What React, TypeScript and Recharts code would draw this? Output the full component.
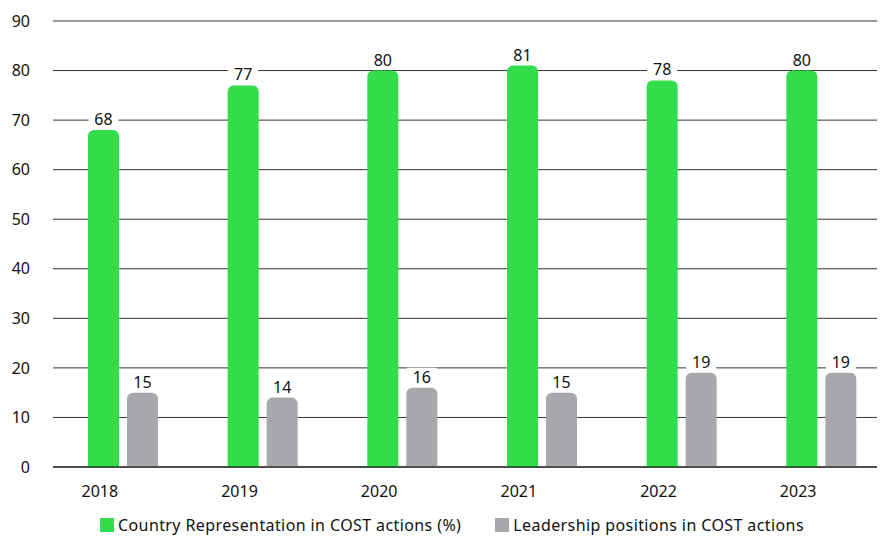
// @ts-nocheck
import { BarChart, Bar, XAxis, YAxis, CartesianGrid, LabelList, Legend } from 'recharts'

const YEARS = ['2018', '2019', '2020', '2021', '2022', '2023']
const COUNTRY = [68, 77, 80, 81, 78, 80]
const LEADERSHIP = [15, 14, 16, 15, 19, 19]
const Y_TICKS = [0, 10, 20, 30, 40, 50, 60, 70, 80, 90]

const GREEN = '#32dc4a'
const GREY = '#a7a8ab'
const FONT = '"Noto Sans", "Open Sans", sans-serif'

const data = YEARS.map((year, i) => ({ year, country: COUNTRY[i], leadership: LEADERSHIP[i] }))

const ValueLabel = ({ x, y, width, value }) => {
  const cx = x + width / 2
  const cy = y - 11
  return (
    <g>
      <rect x={cx - 15} y={cy - 9} width={30} height={18} fill="#fff" />
      <text x={cx} y={cy} textAnchor="middle" dominantBaseline="central" fontSize={16} fill="#111" fontFamily={FONT}>
        {value}
      </text>
    </g>
  )
}

const LegendContent = ({ payload }) => (
  <div style={{ display: 'flex', gap: 34, paddingLeft: 92, paddingTop: 7, fontFamily: FONT, fontSize: 16,
    letterSpacing: 0.4, color: '#111', lineHeight: '22px' }}>
    {payload.map(p => (
      <div key={p.value} style={{ display: 'flex', alignItems: 'center' }}>
        <span style={{ display: 'inline-block', width: 14, height: 14, background: p.color, marginRight: 4 }} />
        <span>{p.value}</span>
      </div>
    ))}
  </div>
)

export default function App() {
  return (
    <div style={{ width: 877, height: 528, overflow: 'hidden' }}>
      <BarChart width={883} height={528} data={data} margin={{ top: 13, right: 0, bottom: 0, left: 0 }}
        barSize={31} barGap={8}>
        <CartesianGrid vertical={false} stroke="#333" />
        <XAxis dataKey="year" axisLine={{ stroke: '#000' }} tickLine={false} tickSize={0} tickMargin={19} height={40}
          tick={{ fill: '#111', fontSize: 16, fontFamily: FONT, dx: -23 }} interval={0} />
        <YAxis domain={[0, 90]} ticks={Y_TICKS} axisLine={false} tickLine={false} tickSize={0} tickMargin={23}
          width={45} tick={{ fill: '#111', fontSize: 16, fontFamily: FONT }} />
        <Legend verticalAlign="bottom" content={<LegendContent />} wrapperStyle={{ height: 29 }} />
        <Bar dataKey="country" name="Country Representation in COST actions (%)" fill={GREEN}
          radius={[6, 6, 0, 0]} isAnimationActive={false}>
          <LabelList dataKey="country" content={<ValueLabel />} />
        </Bar>
        <Bar dataKey="leadership" name="Leadership positions in COST actions" fill={GREY}
          radius={[6, 6, 0, 0]} isAnimationActive={false}>
          <LabelList dataKey="leadership" content={<ValueLabel />} />
        </Bar>
      </BarChart>
    </div>
  )
}
